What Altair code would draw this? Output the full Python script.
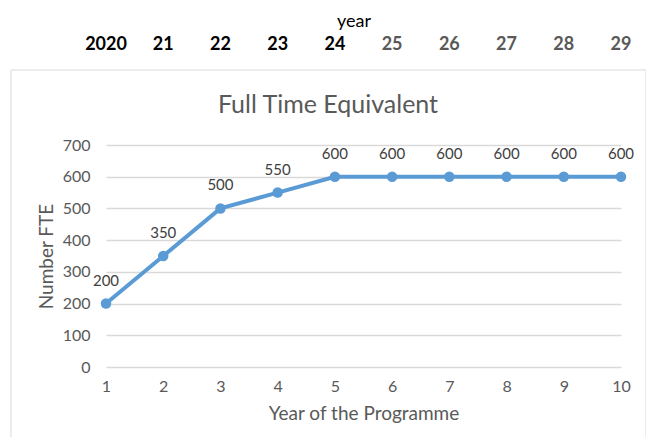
import altair as alt
import pandas as pd

prog_year = [1, 2, 3, 4, 5, 6, 7, 8, 9, 10]
fte = [200, 350, 500, 550, 600, 600, 600, 600, 600, 600]
cal_year = ["2020", "21", "22", "23", "24", "25", "26", "27", "28", "29"]
cal_group = ["a", "a", "a", "a", "a", "b", "b", "b", "b", "b"]

df = pd.DataFrame({"x": prog_year, "y": fte, "cal": cal_year, "grp": cal_group})

FONT = "Lato"
xs = alt.Scale(domain=[1, 10], nice=False)
ys = alt.Scale(domain=[0, 700], nice=False)

frame = alt.Chart(df.head(1)).mark_rect(
    fill=None, stroke="#d9d9d9", strokeWidth=1, clip=False
).encode(
    x=alt.value(-95), x2=alt.value(540), y=alt.value(-75), y2=alt.value(310)
)

title = alt.Chart(df.head(1)).mark_text(
    text="Full Time Equivalent", font=FONT, fontSize=25, color="#595959",
    align="center", baseline="middle"
).encode(x=alt.value(222), y=alt.value(-40))

year_word = alt.Chart(df.head(1)).mark_text(
    text="year", font=FONT, fontSize=18, color="#000000",
    align="center", baseline="middle"
).encode(x=alt.value(248), y=alt.value(-123))

years = alt.Chart(df).mark_text(
    font=FONT, fontSize=18, fontWeight="bold", align="center", baseline="middle"
).encode(
    x=alt.X("x:Q", scale=xs),
    y=alt.value(-100),
    text="cal:N",
    color=alt.Color("grp:N", scale=alt.Scale(domain=["a", "b"], range=["#000000", "#595959"]), legend=None),
)

base = alt.Chart(df).encode(
    x=alt.X("x:Q", scale=xs, title="Year of the Programme",
            axis=alt.Axis(values=prog_year, format="d", grid=False, domain=False, ticks=False,
                          labelFlush=False, labelPadding=11, titlePadding=10)),
    y=alt.Y("y:Q", scale=ys, title="Number FTE",
            axis=alt.Axis(values=[0, 100, 200, 300, 400, 500, 600, 700], grid=True, domain=False,
                          ticks=False, labelFlush=False, labelPadding=16, titlePadding=6)),
)

line = base.mark_line(color="#5b9bd5", strokeWidth=4)
pts = base.mark_point(filled=True, color="#5b9bd5", size=110, opacity=1)
labels = base.mark_text(font=FONT, fontSize=15, color="#404040", dy=-23).encode(text="y:Q")

chart = alt.layer(frame, title, year_word, years, line, pts, labels).properties(
    width=515, height=222,
    autosize=alt.AutoSizeParams(type="none"),
    padding={"left": 98, "top": 137, "right": 25, "bottom": 70},
).configure_view(stroke=None).configure_axis(
    labelFont=FONT, titleFont=FONT, labelColor="#595959", titleColor="#595959",
    labelFontSize=16, titleFontSize=19, titleFontWeight="normal",
    gridColor="#d9d9d9", gridWidth=1.3,
)

chart.save("out.html", embed_options={"renderer": "svg", "actions": False})
